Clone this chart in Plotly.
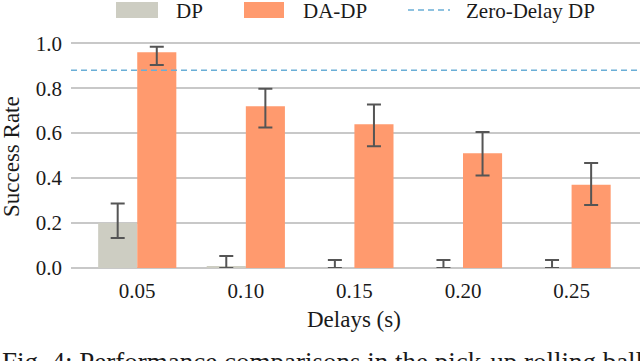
import plotly.graph_objects as go

# ---- data ----
delays = ["0.05", "0.10", "0.15", "0.20", "0.25"]
dp_rate = [0.20, 0.005, 0.0, 0.0, 0.0]
dp_err_plus = [0.087, 0.048, 0.036, 0.036, 0.036]
dp_err_minus = [0.067, 0.005, 0.0, 0.0, 0.0]
dadp_rate = [0.96, 0.72, 0.64, 0.51, 0.37]
dadp_err_plus = [0.024, 0.078, 0.087, 0.095, 0.097]
dadp_err_minus = [0.057, 0.095, 0.098, 0.098, 0.09]
zero_delay_dp = 0.88
y_ticks = [0.0, 0.2, 0.4, 0.6, 0.8, 1.0]

# ---- style ----
FONT = "Times New Roman"
TXT = "#1a1a1a"
C_DP = "#cdcdc2"
C_DADP = "#ff9a6e"
C_ZERO = "#6aaed6"
C_ERR = "#555555"
GRID = "#c8c8c8"

W, H = 640, 361
ML, MR, MT, MB = 71, 0, 32, 93
PW, PH = W - ML - MR, H - MT - MB


def px(x):
    return (x - ML) / PW


def py(y):
    return (H - MB - y) / PH


fig = go.Figure()
fig.add_trace(go.Bar(
    x=delays, y=dp_rate, name="DP", marker_color=C_DP, marker_line_width=0,
    error_y=dict(type="data", symmetric=False, array=dp_err_plus,
                 arrayminus=dp_err_minus, color=C_ERR, thickness=2, width=7),
    showlegend=False,
))
fig.add_trace(go.Bar(
    x=delays, y=dadp_rate, name="DA-DP", marker_color=C_DADP, marker_line_width=0,
    error_y=dict(type="data", symmetric=False, array=dadp_err_plus,
                 arrayminus=dadp_err_minus, color=C_ERR, thickness=2, width=7),
    showlegend=False,
))

# zero-delay reference line
fig.add_shape(type="line", xref="paper", x0=0, x1=1, yref="y",
              y0=zero_delay_dp, y1=zero_delay_dp,
              line=dict(color=C_ZERO, width=1.5, dash="6px,4px"), layer="above")

# ---- legend ----
ly = py(11)
fig.add_shape(type="rect", xref="paper", yref="paper",
              x0=px(116), x1=px(158), y0=py(18), y1=py(2),
              fillcolor=C_DP, line_width=0)
fig.add_shape(type="rect", xref="paper", yref="paper",
              x0=px(244), x1=px(284), y0=py(18), y1=py(2),
              fillcolor=C_DADP, line_width=0)
fig.add_shape(type="line", xref="paper", yref="paper",
              x0=px(408), x1=px(450), y0=py(10), y1=py(10),
              line=dict(color=C_ZERO, width=1.5, dash="6px,4px"))
for xx, t in [(174, "DP"), (301, "DA-DP"), (464, "Zero-Delay DP")]:
    fig.add_annotation(x=px(xx), y=ly, xref="paper", yref="paper", text=t,
                       showarrow=False, xanchor="left", yanchor="middle",
                       font=dict(family=FONT, size=21, color=TXT))

# y axis title
fig.add_annotation(x=px(11), y=py(157), xref="paper", yref="paper",
                   text="Success Rate", textangle=-90, showarrow=False,
                   xanchor="center", yanchor="middle",
                   font=dict(family=FONT, size=23, color=TXT))
# x axis title
fig.add_annotation(x=px(354), y=py(319), xref="paper", yref="paper",
                   text="Delays (s)", showarrow=False,
                   xanchor="center", yanchor="middle",
                   font=dict(family=FONT, size=23, color=TXT))
# caption (cropped in the source)
fig.add_annotation(x=px(0), y=py(345), xref="paper", yref="paper",
                   text="Fig. 4: Performance comparisons in the pick-up rolling ball",
                   showarrow=False, xanchor="left", yanchor="top",
                   font=dict(family=FONT, size=27, color=TXT))

fig.update_layout(
    width=W, height=H,
    margin=dict(l=ML, r=MR, t=MT, b=MB, pad=0, autoexpand=False),
    paper_bgcolor="white", plot_bgcolor="white",
    barmode="group", bargap=0.28, bargroupgap=0,
    font=dict(family=FONT, size=21, color=TXT),
    showlegend=False,
    xaxis=dict(type="category", range=[-0.61, 4.63], showgrid=False,
               showline=False, ticks="", ticklabelstandoff=8, automargin=False,
               tickfont=dict(family=FONT, size=21, color=TXT)),
    yaxis=dict(range=[0, 1.05], tickvals=y_ticks,
               ticktext=[f"{v:.1f}" for v in y_ticks],
               showgrid=True, gridcolor=GRID, gridwidth=2,
               zeroline=True, zerolinecolor=GRID, zerolinewidth=2,
               showline=False, ticks="", ticklabelstandoff=8, automargin=False,
               tickfont=dict(family=FONT, size=21, color=TXT)),
)

fig.write_html("out.html", config={"displayModeBar": False},
               post_script="document.body.style.margin='0';")
